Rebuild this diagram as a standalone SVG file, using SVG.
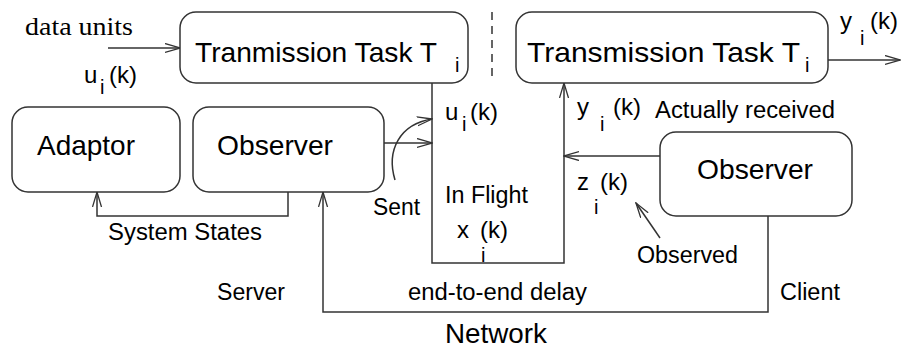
<svg xmlns="http://www.w3.org/2000/svg" width="911" height="350" viewBox="0 0 911 350">
<defs>
<marker id="arr" markerUnits="userSpaceOnUse" markerWidth="16" markerHeight="11" refX="15" refY="5" orient="auto">
<path d="M0,0.5 L15,5 L0,9.5" fill="none" stroke="#333" stroke-width="1.3"/>
</marker>
<style>
.box{fill:#fff;stroke:#333;stroke-width:1.5}
.ln{fill:none;stroke:#333;stroke-width:1.5}
.ar{marker-end:url(#arr)}
text{font-family:"Liberation Sans",Arial,sans-serif;fill:#000}
.big{font-size:28px}
.sm{font-size:23px}
.f{font-size:24px}
.sub{font-size:20px}
.serif{font-family:"Liberation Serif","Times New Roman",serif;font-size:25px}
</style>
</defs>
<g id="connectors">
<path class="ln ar" d="M108,48 L180,48"/>
<path class="ln ar" d="M432,83 L432,263 L564,263 L564,83"/>
<path class="ln ar" d="M384,143 L432,143"/>
<path class="ln ar" d="M395,180 C386,150 400,124 432,119"/>
<path class="ln ar" d="M660,156 L564,156"/>
<path class="ln ar" d="M828,60 L900,60"/>
<path class="ln ar" d="M288,192 L288,216 L97,216 L97,192"/>
<path class="ln ar" d="M768,216 L768,312 L323,312 L323,192"/>
<path class="ln ar" d="M660,238 L636,203"/>
<path class="ln" d="M492,12 L492,80" stroke-dasharray="8 6"/>
</g>
<g id="task-sender">
<rect class="box" x="180" y="12" width="288" height="71" rx="16"/>
<text class="big" x="195" y="62" textLength="242" lengthAdjust="spacingAndGlyphs">Tranmission Task T</text>
<text class="sub" x="455" y="72">i</text>
</g>
<g id="task-receiver">
<rect class="box" x="516" y="12" width="312" height="71" rx="16"/>
<text class="big" x="527" y="62" textLength="273" lengthAdjust="spacingAndGlyphs">Transmission Task T</text>
<text class="sub" x="805" y="72">i</text>
</g>
<g id="adaptor">
<rect class="box" x="12" y="107" width="168" height="85" rx="16"/>
<text class="big" x="37" y="155" textLength="98" lengthAdjust="spacingAndGlyphs">Adaptor</text>
</g>
<g id="observer-server">
<rect class="box" x="193" y="107" width="191" height="85" rx="16"/>
<text class="big" x="217" y="155" textLength="116" lengthAdjust="spacingAndGlyphs">Observer</text>
</g>
<g id="observer-client">
<rect class="box" x="660" y="132" width="192" height="84" rx="16"/>
<text class="big" x="697" y="179" textLength="116" lengthAdjust="spacingAndGlyphs">Observer</text>
</g>
<g id="labels">
<text class="serif" x="25" y="35" textLength="108" lengthAdjust="spacingAndGlyphs">data units</text>
<text class="f" x="84" y="83">u</text><text class="sub" x="100" y="94">i</text><text class="f" x="109" y="83">(k)</text>
<text class="f" x="445" y="120">u</text><text class="sub" x="462" y="131">i</text><text class="f" x="470" y="120">(k)</text>
<text class="f" x="840" y="29">y</text><text class="sub" x="860" y="45">i</text><text class="f" x="870" y="29">(k)</text>
<text class="f" x="577" y="115">y</text><text class="sub" x="600" y="131">i</text><text class="f" x="613" y="115">(k)</text>
<text class="sm" x="655" y="118" textLength="180" lengthAdjust="spacingAndGlyphs">Actually received</text>
<text class="sm" x="445" y="203" textLength="83" lengthAdjust="spacingAndGlyphs">In Flight</text>
<text class="f" x="457" y="238">x</text><text class="f" x="480" y="238">(k)</text><text class="sub" x="481" y="262">i</text>
<text class="f" x="577" y="190">z</text><text class="f" x="600" y="190">(k)</text><text class="sub" x="594" y="214">i</text>
<text class="sm" x="637" y="263" textLength="101" lengthAdjust="spacingAndGlyphs">Observed</text>
<text class="sm" x="373" y="215" textLength="47" lengthAdjust="spacingAndGlyphs">Sent</text>
<text class="sm" x="108" y="240" textLength="154" lengthAdjust="spacingAndGlyphs">System States</text>
<text class="sm" x="217" y="300" textLength="68" lengthAdjust="spacingAndGlyphs">Server</text>
<text class="sm" x="408" y="300" textLength="179" lengthAdjust="spacingAndGlyphs">end-to-end delay</text>
<text class="sm" x="780" y="300" textLength="60" lengthAdjust="spacingAndGlyphs">Client</text>
<text class="big" x="445" y="343" font-size="27" textLength="102" lengthAdjust="spacingAndGlyphs">Network</text>
</g>
</svg>
